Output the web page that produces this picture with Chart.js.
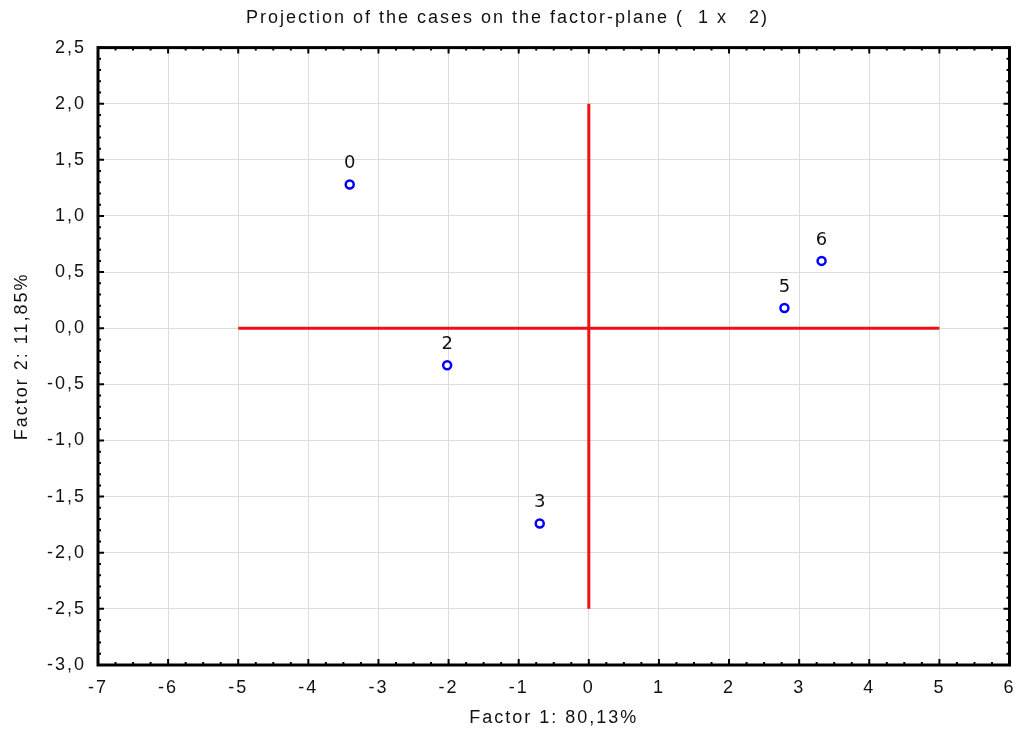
<!DOCTYPE html>
<html>
<head>
<meta charset="utf-8">
<script src="https://cdn.jsdelivr.net/npm/chart.js@4.4.1/dist/chart.umd.min.js"></script>
<style>
  html, body { margin: 0; padding: 0; background: #fff; }
  #wrap { width: 1016px; height: 745px; }
</style>
</head>
<body>
<div id="wrap"><canvas id="plane"></canvas></div>
<script>
// cases projected on factor plane (1 x 2)
var caseLabels = ['0', '2', '3', '5', '6'];
var factor1 = [-3.41, -2.02, -0.70, 2.79, 3.32];
var factor2 = [1.28, -0.33, -1.74, 0.18, 0.60];

// red reference axes
var hLineX = [-5, 5];
var hLineY = [0, 0];
var vLineX = [0, 0];
var vLineY = [-2.5, 2.0];

var xMin = -7, xMax = 6;
var yMin = -3.0, yMax = 2.5;

function pts(xs, ys) {
    var out = [];
    for (var i = 0; i < xs.length; i++) out.push({ x: xs[i], y: ys[i] });
    return out;
}

var fontFam = '"Liberation Sans", Arial, sans-serif';

// letter spacing like the original output
var spacingPlugin = {
    id: 'spacing',
    beforeDraw: function (chart) {
        chart.ctx.letterSpacing = '2px';
    }
};

// frame + inward ticks, point labels
var framePlugin = {
    id: 'frame',
    afterDraw: function (chart) {
        var ctx = chart.ctx;
        var a = chart.chartArea;
        var xs = chart.scales.x, ys = chart.scales.y;
        ctx.save();
        ctx.strokeStyle = '#000';
        ctx.lineWidth = 2;
        var v, p, len;
        for (v = xMin; v <= xMax + 1e-9; v += 0.25) {
            p = xs.getPixelForValue(v);
            len = Math.abs(v - Math.round(v)) < 1e-6 ? 6 : 3;
            ctx.beginPath();
            ctx.moveTo(p, a.bottom); ctx.lineTo(p, a.bottom - len);
            ctx.moveTo(p, a.top); ctx.lineTo(p, a.top + len);
            ctx.stroke();
        }
        for (v = yMin; v <= yMax + 1e-9; v += 0.1) {
            p = ys.getPixelForValue(v);
            var r = Math.round(v * 10);
            len = (r % 5 === 0) ? 6 : 3;
            ctx.beginPath();
            ctx.moveTo(a.left, p); ctx.lineTo(a.left + len, p);
            ctx.moveTo(a.right, p); ctx.lineTo(a.right - len, p);
            ctx.stroke();
        }
        ctx.lineWidth = 3;
        ctx.strokeRect(a.left, a.top, a.right - a.left, a.bottom - a.top);

        // case numbers above the markers
        var meta = chart.getDatasetMeta(2);
        ctx.fillStyle = '#111';
        ctx.font = '500 18px "DejaVu Sans", Verdana, sans-serif';
        ctx.letterSpacing = '0px';
        ctx.textAlign = 'center';
        ctx.textBaseline = 'middle';
        meta.data.forEach(function (el, i) {
            ctx.fillText(caseLabels[i], el.x, el.y - 21);
        });
        ctx.restore();
    }
};

var ctx = document.getElementById('plane').getContext('2d');
var chart = new Chart(ctx, {
    type: 'scatter',
    data: {
        datasets: [{
            label: 'h',
            data: pts(hLineX, hLineY),
            showLine: true,
            borderColor: '#ee1111',
            borderWidth: 3,
            pointRadius: 0
        }, {
            label: 'v',
            data: pts(vLineX, vLineY),
            showLine: true,
            borderColor: '#ee1111',
            borderWidth: 3,
            pointRadius: 0
        }, {
            label: 'cases',
            data: pts(factor1, factor2),
            pointRadius: 4,
            pointBorderWidth: 2.5,
            pointBorderColor: '#0000ff',
            pointBackgroundColor: '#ffffff'
        }]
    },
    options: {
        responsive: true,
        maintainAspectRatio: false,
        animation: false,
        layout: { padding: { top: 0, right: 1, left: 0, bottom: 0 } },
        plugins: {
            legend: { display: false },
            tooltip: { enabled: false },
            title: {
                display: true,
                text: 'Projection of the cases on the factor-plane (  1 x   2)',
                color: '#111',
                font: { family: fontFam, size: 18, weight: 'normal' },
                padding: { top: 7, bottom: 19 }
            }
        },
        scales: {
            x: {
                type: 'linear',
                min: xMin,
                max: xMax,
                ticks: {
                    stepSize: 1,
                    padding: 12,
                    color: '#111',
                    font: { family: fontFam, size: 18 },
                    callback: function (v) { return String(v); }
                },
                grid: { color: '#dcdcdc', lineWidth: 1, drawTicks: false },
                border: { display: false },
                title: {
                    display: true,
                    text: 'Factor 1: 80,13%',
                    color: '#111',
                    font: { family: fontFam, size: 18 },
                    padding: { top: 0, bottom: 16 }
                },
                afterFit: function (s) {
                    s.height = 80;
                    s.paddingLeft = 0;
                    s.paddingRight = 0;
                }
            },
            y: {
                type: 'linear',
                min: yMin,
                max: yMax,
                ticks: {
                    stepSize: 0.5,
                    padding: 12,
                    color: '#111',
                    font: { family: fontFam, size: 18 },
                    callback: function (v) { return v.toFixed(1).replace('.', ','); }
                },
                grid: { color: '#dcdcdc', lineWidth: 1, drawTicks: false },
                border: { display: false },
                title: {
                    display: true,
                    text: 'Factor 2: 11,85%',
                    color: '#111',
                    font: { family: fontFam, size: 18 },
                    padding: { top: 11, bottom: 0 }
                },
                afterFit: function (s) {
                    s.width = 98;
                    s.paddingTop = 0;
                    s.paddingBottom = 0;
                }
            }
        }
    },
    plugins: [spacingPlugin, framePlugin]
});
</script>
</body>
</html>
